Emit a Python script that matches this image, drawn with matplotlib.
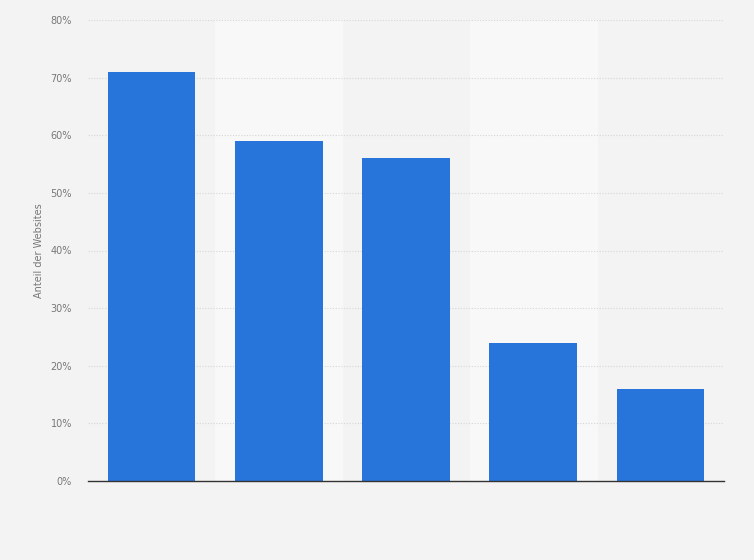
import numpy as np
import matplotlib.pyplot as plt

# data (no category labels shown in the chart)
categories = ["1", "2", "3", "4", "5"]
values = [71, 59, 56, 24, 16]
y_ticks = [0, 10, 20, 30, 40, 50, 60, 70, 80]

bg = "#f3f3f3"
fig = plt.figure(figsize=(7.54, 5.6), dpi=100, facecolor=bg)
ax = fig.add_axes([88 / 754, 79 / 560, 636 / 754, 461 / 560])
ax.set_facecolor(bg)

x = np.arange(len(categories))

# alternating lighter column bands
for i in x:
    if i % 2 == 1:
        ax.axvspan(i - 0.5, i + 0.5, color="#f8f8f8", zorder=0)

ax.bar(x, values, width=0.69, color="#2775db", zorder=3)

ax.set_xlim(-0.5, len(categories) - 0.5)
ax.set_ylim(0, 80)
ax.set_yticks(y_ticks)
ax.set_yticklabels([f"{t}%" for t in y_ticks])
ax.set_xticks([])

ax.grid(axis="y", color="#d6d6d6", linestyle=(0, (1, 1.5)), linewidth=0.8, zorder=1)
for s in ["top", "right", "left"]:
    ax.spines[s].set_visible(False)
ax.spines["bottom"].set_color("#333333")
ax.spines["bottom"].set_linewidth(1.0)
ax.spines["bottom"].set_zorder(4)

ax.tick_params(axis="y", length=0, pad=11.5, labelsize=7, labelcolor="#777777")
ax.set_ylabel("Anteil der Websites", fontsize=7, color="#777777", labelpad=5)

plt.savefig("out.png", dpi=100, facecolor=bg)
